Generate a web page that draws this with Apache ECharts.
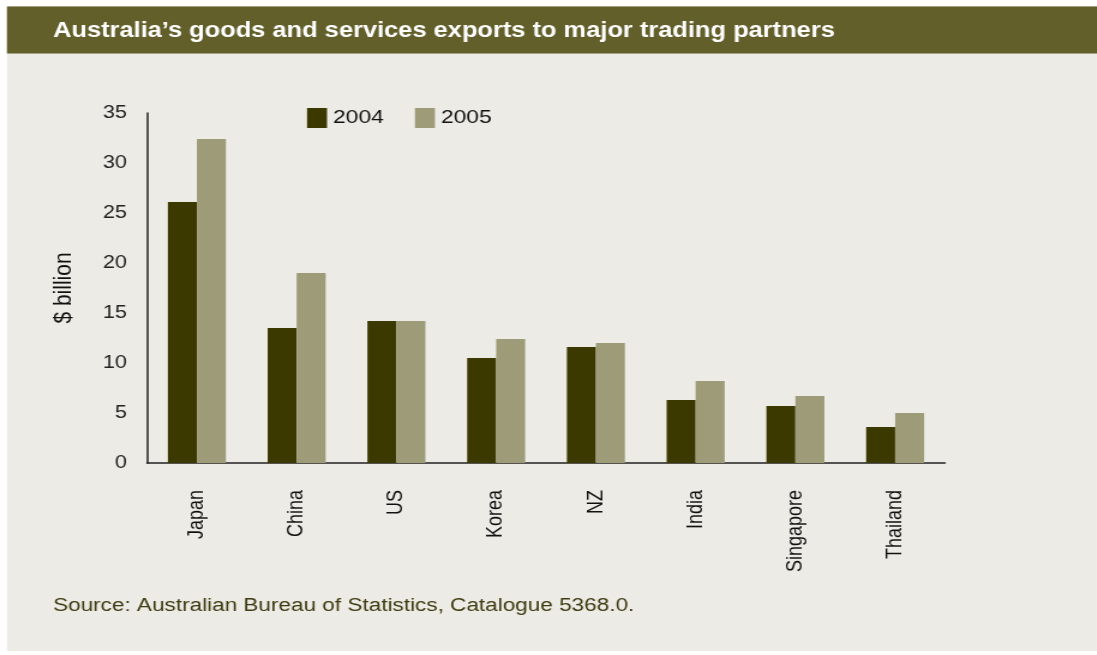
<!DOCTYPE html>
<html>
<head>
<meta charset="utf-8">
<script src="https://cdn.jsdelivr.net/npm/echarts@6/dist/echarts.min.js"></script>
<style>
  html, body { margin: 0; padding: 0; background: #ffffff; }
  #wrap { position: absolute; left: 0; top: 0; width: 1097px; height: 655px; overflow: hidden; }
  /* the chart is laid out narrower and stretched horizontally */
  #chart { position: absolute; left: 0; top: 0; height: 655px; transform-origin: 0 0; }
</style>
</head>
<body>
<div id="wrap"><div id="chart"></div></div>
<script>
// Australia's goods and services exports, $ billion
const categories = ['Japan', 'China', 'US', 'Korea', 'NZ', 'India', 'Singapore', 'Thailand'];
const seriesNames = ['2004', '2005'];
const exports2004 = [26.1, 13.5, 14.2, 10.5, 11.6, 6.3, 5.7, 3.6];
const exports2005 = [32.4, 19.0, 14.2, 12.4, 12.0, 8.2, 6.7, 5.0];
const yTicks = { min: 0, max: 35, interval: 5 };
const titleText = 'Australia\u2019s goods and services exports to major trading partners';
const sourceText = 'Source: Australian Bureau of Statistics, Catalogue 5368.0.';
const yAxisName = '$ billion';

const STRETCH = 1.2;
const W = 1097 / STRETCH;
const sx = v => v / STRETCH;

const el = document.getElementById('chart');
el.style.width = W + 'px';
el.style.transform = 'scaleX(' + STRETCH + ')';

const chart = echarts.init(el, null, { renderer: 'canvas', width: W, height: 655 });

const FONT = 'Liberation Sans, Arial, Helvetica, sans-serif';
const C2004 = '#3c3900';
const C2005 = '#9e9c78';

chart.setOption({
  animation: false,
  backgroundColor: '#ffffff',
  graphic: [
    { type: 'rect', z: -10, shape: { x: sx(7), y: 6, width: W, height: 645 }, style: { fill: '#ecebe5' } },
    { type: 'rect', z: -9, shape: { x: sx(7), y: 6, width: W, height: 48 }, style: { fill: '#a3a184' } },
    { type: 'rect', z: -8, shape: { x: sx(7), y: 7, width: W, height: 46 }, style: { fill: '#635f2a' } },
    { type: 'text', left: sx(53), top: 596, style: { text: sourceText, fill: '#3f3b12', font: '18.8px ' + FONT } }
  ],
  title: {
    text: titleText,
    left: sx(53),
    top: 21,
    padding: 0,
    textStyle: { color: '#ffffff', fontFamily: FONT, fontWeight: 'bold', fontSize: 21.2 }
  },
  legend: {
    data: seriesNames,
    left: sx(307),
    top: 108,
    padding: 0,
    itemWidth: sx(20),
    itemHeight: 20,
    itemGap: 26,
    icon: 'rect',
    textStyle: { color: '#111', fontFamily: FONT, fontSize: 19, padding: [2, 0, 0, 0] }
  },
  grid: { left: sx(147), right: W - sx(945), top: 113, bottom: 192, containLabel: false },
  xAxis: {
    type: 'category',
    data: categories,
    axisLine: { show: true, lineStyle: { color: '#222', width: 1.5 } },
    axisTick: { show: false },
    axisLabel: { rotate: 90, margin: 27, color: '#111', fontFamily: FONT, fontSize: 18, interval: 0 }
  },
  yAxis: {
    type: 'value',
    min: yTicks.min,
    max: yTicks.max,
    interval: yTicks.interval,
    name: yAxisName,
    nameLocation: 'middle',
    nameGap: 59,
    nameRotate: 90,
    nameTextStyle: { color: '#111', fontFamily: FONT, fontSize: 21 },
    axisLine: { show: true, lineStyle: { color: '#222', width: 1.5 } },
    axisTick: { show: false },
    splitLine: { show: false },
    axisLabel: { margin: sx(20), color: '#222', fontFamily: FONT, fontSize: 18 }
  },
  series: [
    { name: seriesNames[0], type: 'bar', data: exports2004, barWidth: sx(29), barGap: '0%', itemStyle: { color: C2004 } },
    { name: seriesNames[1], type: 'bar', data: exports2005, barWidth: sx(29), barGap: '0%', itemStyle: { color: C2005 } }
  ]
});
</script>
</body>
</html>
